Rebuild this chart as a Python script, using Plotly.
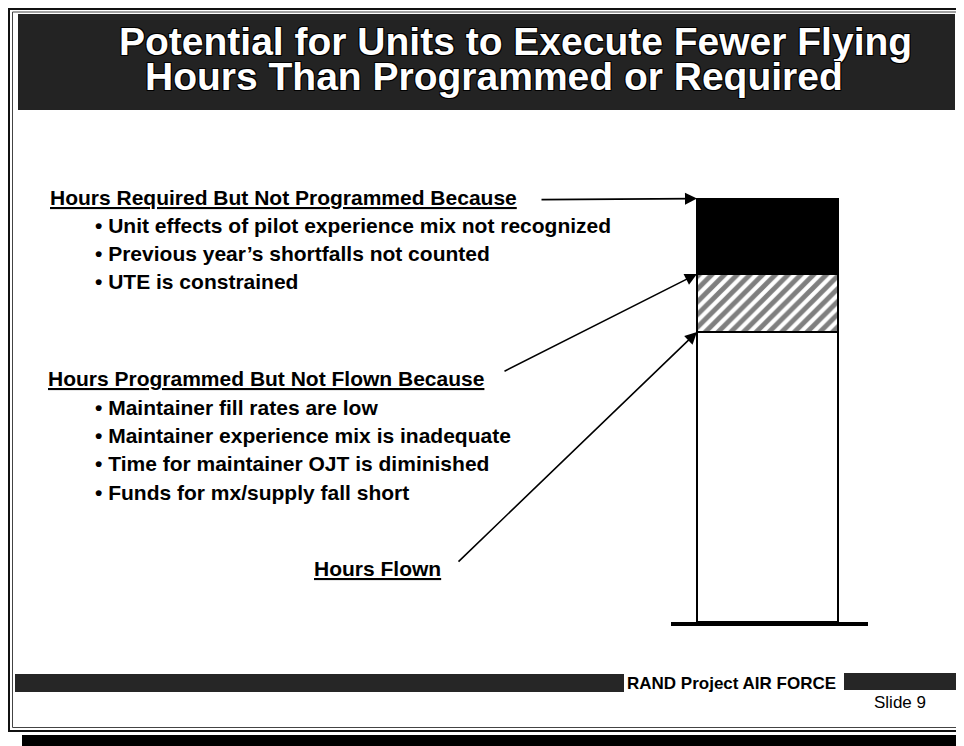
import plotly.graph_objects as go

# ---------------- data ----------------
bar_category = [0]
hours_flown = [100]
programmed_not_flown = [20]
required_not_programmed = [26]

title_lines = ["Potential for Units to Execute Fewer Flying",
               "Hours Than Programmed or Required"]
header_required = "Hours Required But Not Programmed Because"
bullets_required = ["Unit effects of pilot experience mix not recognized",
                    "Previous year\u2019s shortfalls not counted",
                    "UTE is constrained"]
header_programmed = "Hours Programmed But Not Flown Because"
bullets_programmed = ["Maintainer fill rates are low",
                      "Maintainer experience mix is inadequate",
                      "Time for maintainer OJT is diminished",
                      "Funds for mx/supply fall short"]
label_flown = "Hours Flown"
footer_text = "RAND Project AIR FORCE"
slide_text = "Slide 9"

# ---------------- layout helpers ----------------
W, H = 964, 746
OFF = 8  # page body margin in the browser
FONT = "Liberation Sans, Arial, Helvetica, sans-serif"


def px(x):
    return (x - OFF) / W


def py(y):
    return 1 - (y - OFF) / H


BAR_WIDTH = 0.716

fig = go.Figure()
fig.add_trace(go.Bar(x=bar_category, y=hours_flown, width=BAR_WIDTH,
                     marker=dict(color="white", line=dict(color="black", width=2)),
                     showlegend=False, hoverinfo="skip"))
fig.add_trace(go.Bar(x=bar_category, y=programmed_not_flown, width=BAR_WIDTH,
                     marker=dict(color="white", line=dict(color="black", width=2),
                                 pattern=dict(shape="/", fgcolor="black", bgcolor="white",
                                              size=9, solidity=0.55)),
                     showlegend=False, hoverinfo="skip"))
fig.add_trace(go.Bar(x=bar_category, y=required_not_programmed, width=BAR_WIDTH,
                     marker=dict(color="black", line=dict(color="black", width=2)),
                     showlegend=False, hoverinfo="skip"))

shapes = []
# outer slide borders
shapes.append(dict(type="rect", xref="paper", yref="paper", x0=px(9), x1=px(961), y0=py(731), y1=py(9),
                   line=dict(color="#111", width=2), fillcolor="rgba(0,0,0,0)", layer="below"))
shapes.append(dict(type="rect", xref="paper", yref="paper", x0=px(12.5), x1=px(957.5), y0=py(727.5), y1=py(12),
                   line=dict(color="#444", width=1), fillcolor="rgba(0,0,0,0)", layer="below"))
# bottom shadow band
shapes.append(dict(type="rect", xref="paper", yref="paper", x0=px(22), x1=px(972), y0=py(754), y1=py(735),
                   line=dict(width=0), fillcolor="black", layer="below"))
# title banner
shapes.append(dict(type="rect", xref="paper", yref="paper", x0=px(18), x1=px(955), y0=py(110), y1=py(14),
                   line=dict(width=0), fillcolor="#232323", layer="below"))
# footer bars
shapes.append(dict(type="rect", xref="paper", yref="paper", x0=px(15), x1=px(624), y0=py(692), y1=py(674),
                   line=dict(width=0), fillcolor="#262626", layer="below"))
shapes.append(dict(type="rect", xref="paper", yref="paper", x0=px(844), x1=px(956), y0=py(690), y1=py(673),
                   line=dict(width=0), fillcolor="#262626", layer="below"))

annotations = []
title_shadow = "1px 1px 0 #000, -1px -1px 0 #000, 1px -1px 0 #000, -1px 1px 0 #000"
for line, xx, yy in zip(title_lines, [117, 143], [41, 77]):
    annotations.append(dict(text=line, xref="paper", yref="paper", x=px(xx), y=py(yy),
                            xanchor="left", yanchor="middle", showarrow=False,
                            font=dict(family=FONT, size=39, color="white", weight=700,
                                      shadow=title_shadow)))


def add_text(text, x, y, size=21, anchor="left", underline=False, bold=True):
    f = dict(family=FONT, size=size, color="black", weight=700 if bold else 400)
    if underline:
        f["lineposition"] = "under"
    annotations.append(dict(text=text, xref="paper", yref="paper", x=px(x), y=py(y),
                            xanchor=anchor, yanchor="middle", showarrow=False, font=f))


add_text(header_required, 48, 197, underline=True)
for b, yy in zip(bullets_required, [225, 253, 281]):
    add_text("\u2022 " + b, 93, yy)
add_text(header_programmed, 46, 378, underline=True)
for b, yy in zip(bullets_programmed, [407, 435, 463, 492]):
    add_text("\u2022 " + b, 93, yy)
add_text(label_flown, 443, 568, anchor="right", underline=True)

add_text(footer_text, 838, 683, size=17, anchor="right")
add_text(slide_text, 928, 702, size=17, anchor="right", bold=False)

# arrows pointing to the bar segments (tips at segment tops, on the bar's left edge)
left_edge = bar_category[0] - BAR_WIDTH / 2
tops = [hours_flown[0] + programmed_not_flown[0] + required_not_programmed[0],
        hours_flown[0] + programmed_not_flown[0],
        hours_flown[0]]
tails = [(-157, 1), (-194, 98), (-240, 231)]
for t, (ax, ay) in zip(tops, tails):
    annotations.append(dict(text="", x=left_edge, y=t, xref="x", yref="y",
                            ax=ax, ay=ay, axref="pixel", ayref="pixel",
                            showarrow=True, arrowhead=2, arrowsize=1.5, arrowwidth=1.6,
                            arrowcolor="black", standoff=0, startstandoff=0))

PX_PER_UNIT = 2.9
fig.update_layout(
    width=W, height=H, margin=dict(l=0, r=0, t=0, b=0),
    paper_bgcolor="white", plot_bgcolor="rgba(0,0,0,0)",
    barmode="stack", bargap=0,
    shapes=shapes, annotations=annotations,
    xaxis=dict(domain=[px(671), px(868)], range=[-0.49, 0.51], showgrid=False, zeroline=False,
               showticklabels=False, ticks="", showline=True, linecolor="black", linewidth=4),
    yaxis=dict(domain=[py(622), py(150)], range=[0, (622 - 150) / PX_PER_UNIT], showgrid=False,
               zeroline=False, showticklabels=False, ticks="", showline=False),
    showlegend=False,
)

fig.write_html("out.html")
